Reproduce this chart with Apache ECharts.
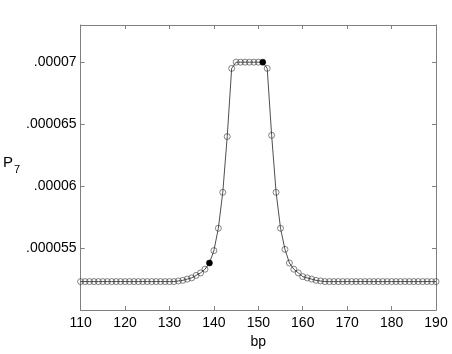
<!DOCTYPE html>
<html>
<head>
<meta charset="utf-8">
<script src="https://cdn.jsdelivr.net/npm/echarts@6/dist/echarts.min.js"></script>
<style>
  html, body { margin: 0; padding: 0; background: #fff; }
  #chart { width: 452px; height: 354px; }
</style>
</head>
<body>
<div id="chart"></div>
<script>
// position along the sequence
const bp = [
  110, 111, 112, 113, 114, 115, 116, 117, 118, 119,
  120, 121, 122, 123, 124, 125, 126, 127, 128, 129,
  130, 131, 132, 133, 134, 135, 136, 137, 138, 139,
  140, 141, 142, 143, 144, 145, 146, 147, 148, 149,
  150, 151, 152, 153, 154, 155, 156, 157, 158, 159,
  160, 161, 162, 163, 164, 165, 166, 167, 168, 169,
  170, 171, 172, 173, 174, 175, 176, 177, 178, 179,
  180, 181, 182, 183, 184, 185, 186, 187, 188, 189,
  190
]
// P7 values
const p7 = [
  5.23e-5, 5.23e-5, 5.23e-5, 5.23e-5, 5.23e-5, 5.23e-5, 5.23e-5, 5.23e-5, 5.23e-5, 5.23e-5,
  5.23e-5, 5.23e-5, 5.23e-5, 5.23e-5, 5.23e-5, 5.23e-5, 5.23e-5, 5.23e-5, 5.23e-5, 5.23e-5,
  5.23e-5, 5.23e-5, 5.235e-5, 5.24e-5, 5.25e-5, 5.26e-5, 5.28e-5, 5.30e-5, 5.33e-5, 5.38e-5,
  5.48e-5, 5.66e-5, 5.95e-5, 6.40e-5, 6.95e-5, 7.00e-5, 7.00e-5, 7.00e-5, 7.00e-5, 7.00e-5,
  7.00e-5, 7.00e-5, 6.95e-5, 6.41e-5, 5.95e-5, 5.66e-5, 5.49e-5, 5.38e-5, 5.33e-5, 5.30e-5,
  5.27e-5, 5.26e-5, 5.25e-5, 5.24e-5, 5.235e-5, 5.23e-5, 5.23e-5, 5.23e-5, 5.23e-5, 5.23e-5,
  5.23e-5, 5.23e-5, 5.23e-5, 5.23e-5, 5.23e-5, 5.23e-5, 5.23e-5, 5.23e-5, 5.23e-5, 5.23e-5,
  5.23e-5, 5.23e-5, 5.23e-5, 5.23e-5, 5.23e-5, 5.23e-5, 5.23e-5, 5.23e-5, 5.23e-5, 5.23e-5,
  5.23e-5
]
// the two filled markers
const filledBp = [139, 151]

const yTickValues = [5.5e-5, 6e-5, 6.5e-5, 7e-5]
const yTickLabels = ['.000055', '.00006', '.000065', '.00007']

const font = 'Liberation Sans, Arial, Helvetica, sans-serif'
const axisColor = '#808080'

const points = bp.map((x, i) => {
  const item = { value: [x, p7[i]] }
  if (filledBp.includes(x)) {
    item.itemStyle = { color: '#000', borderColor: '#000', borderWidth: 0.6 }
  }
  return item
})

const yLabel = v => {
  const i = yTickValues.findIndex(t => Math.abs(t - v) < 1e-10)
  return i >= 0 ? yTickLabels[i] : ''
}

const myChart = echarts.init(document.getElementById('chart'))
const option = {
  animation: false,
  grid: { left: 62, right: 16, top: 25, bottom: 37 },
  xAxis: [{
    type: 'value',
    min: 110,
    max: 190,
    interval: 10,
    name: 'bp',
    nameLocation: 'middle',
    nameGap: 18,
    nameTextStyle: { color: '#000', fontSize: 14, fontFamily: font },
    axisLine: { lineStyle: { color: axisColor, width: 1 } },
    axisTick: { inside: true, length: 4, lineStyle: { color: axisColor } },
    axisLabel: { color: '#000', fontSize: 14, fontFamily: font, margin: 6 },
    splitLine: { show: false }
  }, {
    type: 'value',
    position: 'top',
    min: 110,
    max: 190,
    interval: 10,
    axisLine: { lineStyle: { color: axisColor, width: 1 } },
    axisTick: { inside: true, length: 4, lineStyle: { color: axisColor } },
    axisLabel: { show: false },
    splitLine: { show: false }
  }],
  yAxis: [{
    type: 'value',
    min: 5e-5,
    max: 7.3e-5,
    interval: 5e-6,
    name: '{p|P}{s|7}',
    nameLocation: 'middle',
    nameRotate: 0,
    nameGap: 56,
    nameTextStyle: {
      color: '#000',
      fontFamily: font,
      padding: [0, 0, 10, 0],
      rich: {
        p: { fontSize: 15, fontFamily: font, color: '#000' },
        s: { fontSize: 11, fontFamily: font, color: '#000', padding: [14, 0, 0, 1] }
      }
    },
    axisLine: { show: true, lineStyle: { color: axisColor, width: 1 } },
    axisTick: { show: true, inside: true, length: 4, lineStyle: { color: axisColor } },
    axisLabel: { color: '#000', fontSize: 14, fontFamily: font, margin: 4, formatter: yLabel },
    splitLine: { show: false }
  }, {
    type: 'value',
    position: 'right',
    min: 5e-5,
    max: 7.3e-5,
    interval: 5e-6,
    axisLine: { show: true, lineStyle: { color: axisColor, width: 1 } },
    axisTick: { show: true, inside: true, length: 4, lineStyle: { color: axisColor } },
    axisLabel: { show: false },
    splitLine: { show: false }
  }],
  series: [{
    type: 'line',
    data: points,
    symbol: 'circle',
    symbolSize: 6,
    showAllSymbol: true,
    lineStyle: { color: '#222', width: 0.8 },
    itemStyle: { color: 'rgba(255,255,255,0)', borderColor: '#333', borderWidth: 0.6 }
  }]
}

option && myChart.setOption(option)
</script>
</body>
</html>
